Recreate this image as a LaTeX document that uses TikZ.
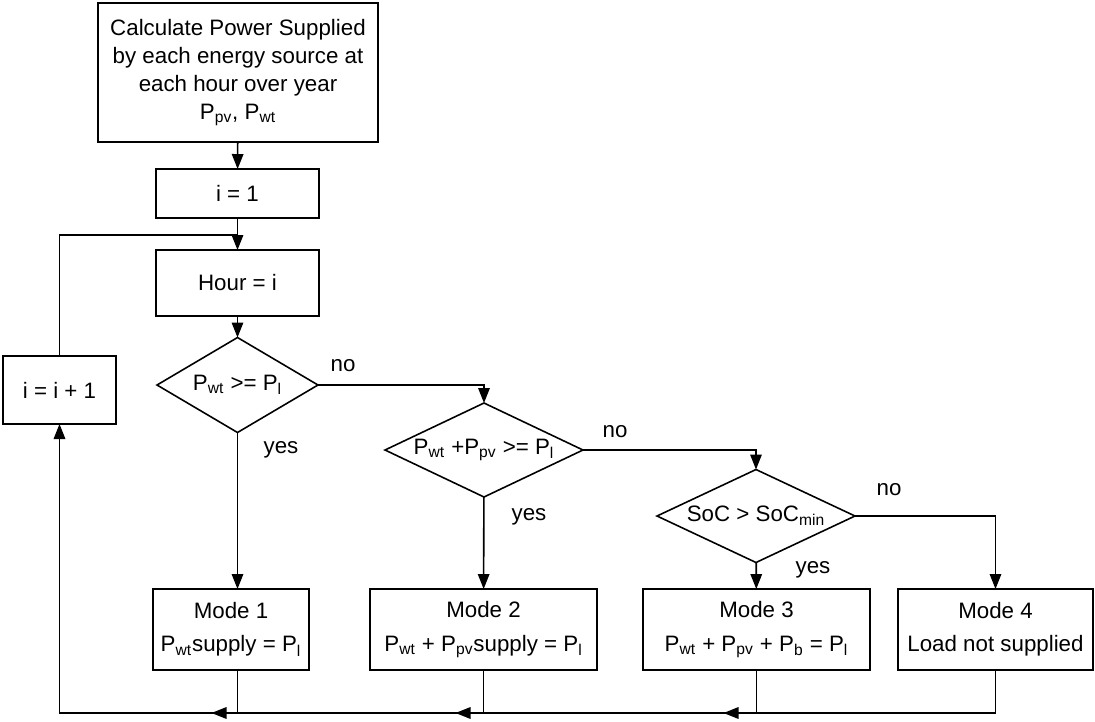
\documentclass[tikz,border=0pt]{standalone}
\usepackage{fontspec}
\setmainfont{Liberation Sans}
\usetikzlibrary{shapes.geometric,arrows.meta}
\newcommand{\tsub}[1]{\textsubscript{#1}}
\tikzset{mybox/.style={draw,rectangle,align=center,inner sep=2pt,outer sep=0},
 mydiamond/.style={draw,diamond,aspect=2.2,inner sep=0pt,outer sep=0,align=center},
 myarrow/.style={-{Triangle[length=0.3cm,width=0.23cm]}}}

\begin{document}
\begin{tikzpicture}[x=0.02cm,y=-0.02cm,line width=0.9pt,font=\fontsize{12.7}{16}\selectfont]
 \useasboundingbox (0,0) rectangle (1095,721);
 \node[mybox,minimum width=5.6cm,minimum height=2.78cm] (calc) at (238,72.5)
   {Calculate Power Supplied\\by each energy source at\\each hour over year\\P\tsub{pv}, P\tsub{wt}};
 \node[mybox,minimum width=3.26cm,minimum height=0.98cm] (init) at (237.5,193.5) {i = 1};
 \node[mybox,minimum width=3.26cm,minimum height=1.32cm] (hour) at (237.5,283) {Hour = i};
 \node[mybox,minimum width=2.26cm,minimum height=1.36cm] (incr) at (59.5,390) {i = i + 1};
 \node[mydiamond,minimum width=3.22cm,minimum height=1.9cm] (test1) at (237.5,385) {P\tsub{wt} >= P\tsub{l}};
 \node[mydiamond,minimum width=3.96cm,minimum height=1.88cm] (test2) at (484,450) {P\tsub{wt} +P\tsub{pv} >= P\tsub{l}};
 \node[mydiamond,minimum width=3.96cm,minimum height=1.86cm] (test3) at (756,516) {SoC > SoC\tsub{min}};
 \node[mybox,minimum width=3.12cm,minimum height=1.62cm] (mode1) at (231,629.5) {Mode 1\\[3pt]P\tsub{wt}supply = P\tsub{l}};
 \node[mybox,minimum width=4.54cm,minimum height=1.62cm] (mode2) at (483.5,629.5) {Mode 2\\[3pt]P\tsub{wt} + P\tsub{pv}supply = P\tsub{l}};
 \node[mybox,minimum width=4.54cm,minimum height=1.62cm] (mode3) at (756.5,629.5) {Mode 3\\[3pt]P\tsub{wt} + P\tsub{pv} + P\tsub{b} = P\tsub{l}};
 \node[mybox,minimum width=3.9cm,minimum height=1.62cm] (mode4) at (995.5,629.5) {Mode 4\\[3pt]Load not supplied};
 \coordinate (join) at (237.5,235);
 \coordinate (base) at (0,713);
 % main column
 \draw[myarrow] (calc) -- (init);
 \draw[myarrow] (init) -- (hour);
 \draw (incr.north) |- (join);
 \draw[myarrow] (hour) -- (test1);
 % decisions
 \draw[myarrow] (test1.east) -| (test2.north);
 \draw[myarrow] (test2.east) -| (test3.north);
 \draw[myarrow] (test3.east) -| (mode4.north);
 \draw[myarrow] (test1.south) -- (test1.south |- mode1.north);
 \draw[myarrow] (test2) -- (mode2);
 \draw[myarrow] (test3) -- (mode3);
 \node (no1) at (343,366) {no};
 \node (yes1) at (281,450) {yes};
 \node (no2) at (615,432) {no};
 \node (yes2) at (529,517) {yes};
 \node (no3) at (889,490) {no};
 \node (yes3) at (813,570) {yes};
 % return line
 \draw[myarrow] (mode4.south) |- (incr.south |- base) -- (incr.south);
 \draw (test1.south |- mode1.south) -- (test1.south |- base);
 \foreach \n in {mode2,mode3}{
     \draw (\n.south) -- (\n.south |- base);
 }
 \foreach \n/\len in {test1/26,mode2/28,mode3/33}{
     \draw[myarrow] (\n.south |- base) -- ++(-\len,0);
 }
\end{tikzpicture}
\end{document}
